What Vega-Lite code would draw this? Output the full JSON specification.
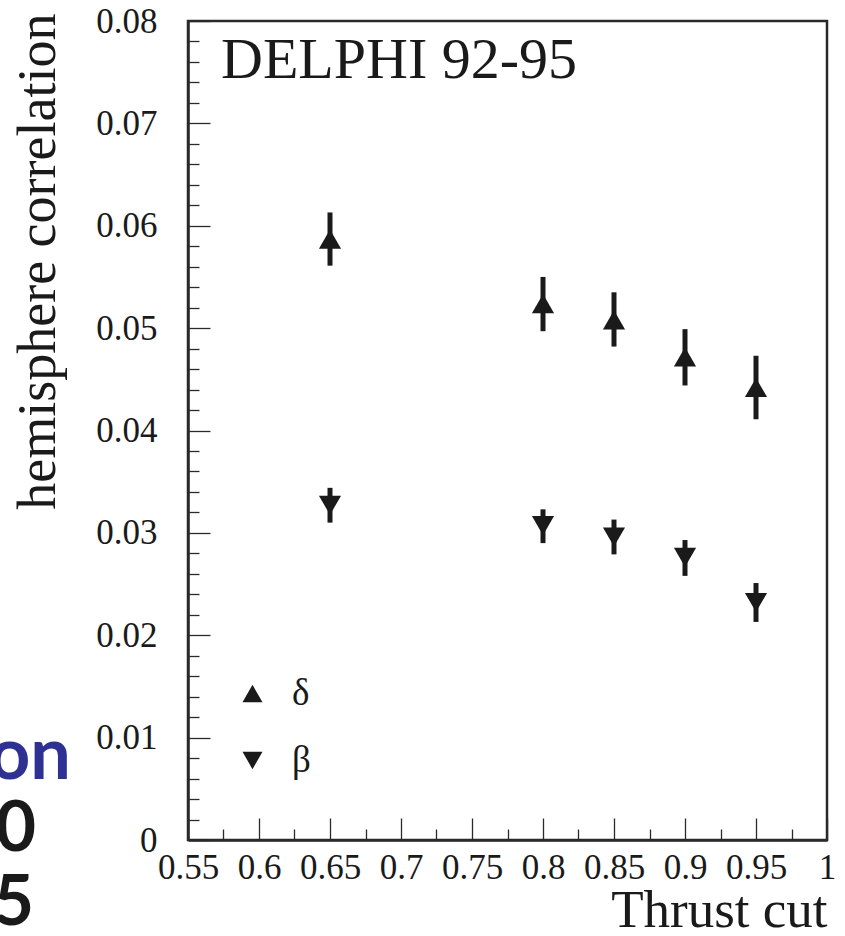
{
  "$schema": "https://vega.github.io/schema/vega-lite/v6.json",
  "width": 639,
  "height": 819,
  "autosize": {"type": "none"},
  "padding": {"left": 188, "top": 21, "right": 18, "bottom": 96},
  "background": "white",
  "title": {
    "text": "DELPHI 92-95",
    "anchor": "start",
    "frame": "group",
    "orient": "top",
    "baseline": "alphabetic",
    "offset": -132,
    "dx": 33,
    "font": "Liberation Serif",
    "fontSize": 58,
    "fontWeight": "normal",
    "color": "#1a1a1a"
  },
  "datasets": {
    "points": [
      {"series": "δ", "thrust": 0.65, "corr": 0.0587, "lo": 0.0561, "hi": 0.0613},
      {"series": "δ", "thrust": 0.80, "corr": 0.0524, "lo": 0.0497, "hi": 0.0550},
      {"series": "δ", "thrust": 0.85, "corr": 0.0508, "lo": 0.0482, "hi": 0.0535},
      {"series": "δ", "thrust": 0.90, "corr": 0.0472, "lo": 0.0444, "hi": 0.0499},
      {"series": "δ", "thrust": 0.95, "corr": 0.0442, "lo": 0.0411, "hi": 0.0473},
      {"series": "β", "thrust": 0.65, "corr": 0.0327, "lo": 0.0310, "hi": 0.0344},
      {"series": "β", "thrust": 0.80, "corr": 0.0307, "lo": 0.0290, "hi": 0.0323},
      {"series": "β", "thrust": 0.85, "corr": 0.0296, "lo": 0.0279, "hi": 0.0313},
      {"series": "β", "thrust": 0.90, "corr": 0.0276, "lo": 0.0258, "hi": 0.0293},
      {"series": "β", "thrust": 0.95, "corr": 0.0232, "lo": 0.0213, "hi": 0.0251}
    ],
    "margin_text": [
      {"label": "on", "thrust": 0.4676, "corr": 0.0060},
      {"label": "0", "thrust": 0.4430, "corr": -0.0011},
      {"label": "5", "thrust": 0.4416, "corr": -0.0083}
    ]
  },
  "layer": [
    {
      "data": {"name": "points"},
      "mark": {"type": "rule", "strokeWidth": 5, "color": "#1a1a1a"},
      "encoding": {
        "x": {
          "field": "thrust", "type": "quantitative",
          "scale": {"domain": [0.55, 1], "nice": false, "zero": false},
          "axis": {
            "orient": "bottom",
            "values": [0.575, 0.625, 0.675, 0.725, 0.775, 0.825, 0.875, 0.925, 0.975],
            "tickSize": -11, "labels": false, "domain": false, "grid": false, "title": null
          }
        },
        "y": {
          "field": "lo", "type": "quantitative",
          "scale": {"domain": [0, 0.08], "nice": false, "zero": false},
          "axis": {
            "orient": "left",
            "values": [0.002, 0.004, 0.006, 0.008, 0.012, 0.014, 0.016, 0.018,
                       0.022, 0.024, 0.026, 0.028, 0.032, 0.034, 0.036, 0.038,
                       0.042, 0.044, 0.046, 0.048, 0.052, 0.054, 0.056, 0.058,
                       0.062, 0.064, 0.066, 0.068, 0.072, 0.074, 0.076, 0.078],
            "tickSize": -11, "labels": false, "domain": false, "grid": false, "title": null
          }
        },
        "y2": {"field": "hi"}
      }
    },
    {
      "data": {"name": "points"},
      "mark": {"type": "point", "filled": true, "size": 490, "color": "#1a1a1a", "opacity": 1},
      "encoding": {
        "x": {
          "field": "thrust", "type": "quantitative",
          "scale": {"domain": [0.55, 1], "nice": false, "zero": false},
          "axis": {
            "orient": "bottom",
            "values": [0.55, 0.6, 0.65, 0.7, 0.75, 0.8, 0.85, 0.9, 0.95, 1],
            "tickSize": -22, "labels": false, "domain": false, "grid": false, "title": null
          }
        },
        "y": {
          "field": "corr", "type": "quantitative",
          "scale": {"domain": [0, 0.08], "nice": false, "zero": false},
          "axis": {
            "orient": "left",
            "values": [0, 0.01, 0.02, 0.03, 0.04, 0.05, 0.06, 0.07, 0.08],
            "tickSize": -22, "labels": false, "domain": false, "grid": false, "title": null
          }
        },
        "shape": {
          "field": "series", "type": "nominal",
          "scale": {"domain": ["δ", "β"], "range": ["triangle-up", "triangle-down"]},
          "legend": {
            "title": null,
            "orient": "none",
            "legendX": 46,
            "legendY": 654,
            "padding": 0,
            "symbolSize": 400,
            "symbolFillColor": "#1a1a1a",
            "symbolStrokeColor": "#1a1a1a",
            "symbolStrokeWidth": 0,
            "labelFont": "Liberation Serif",
            "labelFontSize": 37,
            "labelColor": "#1a1a1a",
            "labelOffset": 21,
            "rowPadding": 29
          }
        }
      }
    },
    {
      "data": {"name": "margin_text"},
      "transform": [{"filter": "datum.label != 'on'"}],
      "mark": {
        "type": "text", "align": "right", "baseline": "alphabetic",
        "font": "Lato", "fontWeight": "bold", "fontSize": 70, "color": "#1a1a1a"
      },
      "encoding": {
        "x": {
          "field": "thrust", "type": "quantitative",
          "scale": {"domain": [0.55, 1], "nice": false, "zero": false},
          "axis": {
            "orient": "bottom",
            "values": [0.55, 0.6, 0.65, 0.7, 0.75, 0.8, 0.85, 0.9, 0.95, 1],
            "format": "~g",
            "ticks": false, "tickSize": 0, "labelPadding": 10,
            "labelFlush": false, "labelOverlap": false, "grid": false,
            "domain": true,
            "title": "Thrust cut",
            "titleX": 639, "titleY": 86,
            "titleAlign": "right", "titleBaseline": "alphabetic",
            "titleFontSize": 53
          }
        },
        "y": {
          "field": "corr", "type": "quantitative",
          "scale": {"domain": [0, 0.08], "nice": false, "zero": false},
          "axis": {
            "orient": "left",
            "values": [0, 0.01, 0.02, 0.03, 0.04, 0.05, 0.06, 0.07, 0.08],
            "format": "~g",
            "ticks": false, "tickSize": 0, "labelPadding": 31,
            "labelFlush": false, "labelOverlap": false, "grid": false,
            "domain": true,
            "title": "hemisphere correlation",
            "titleX": -134, "titleY": -8, "titleAngle": 270,
            "titleAlign": "right", "titleBaseline": "alphabetic",
            "titleFontSize": 54
          }
        },
        "text": {"field": "label"}
      }
    },
    {
      "data": {"name": "margin_text"},
      "transform": [{"filter": "datum.label == 'on'"}],
      "mark": {
        "type": "text", "align": "right", "baseline": "alphabetic",
        "font": "Lato", "fontWeight": "bold", "fontSize": 72, "color": "#2e3192"
      },
      "encoding": {
        "x": {"field": "thrust", "type": "quantitative", "scale": {"domain": [0.55, 1], "nice": false, "zero": false}, "axis": null},
        "y": {"field": "corr", "type": "quantitative", "scale": {"domain": [0, 0.08], "nice": false, "zero": false}, "axis": null},
        "text": {"field": "label"}
      }
    }
  ],
  "resolve": {"axis": {"x": "independent", "y": "independent"}},
  "config": {
    "font": "Liberation Serif",
    "view": {"stroke": "#2a2a2a", "strokeWidth": 2.5},
    "axis": {
      "labelFont": "Liberation Serif",
      "labelFontSize": 35,
      "labelColor": "#1a1a1a",
      "titleFont": "Liberation Serif",
      "titleFontWeight": "normal",
      "titleColor": "#1a1a1a",
      "tickColor": "#2a2a2a",
      "tickWidth": 1.3,
      "domainColor": "#2a2a2a",
      "domainWidth": 2.5,
      "grid": false
    }
  }
}
